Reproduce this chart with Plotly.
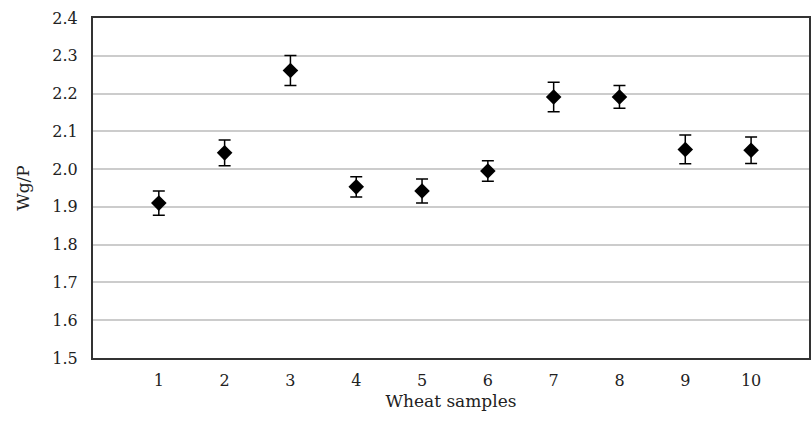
import plotly.graph_objects as go

samples = [1, 2, 3, 4, 5, 6, 7, 8, 9, 10]
wgp = [1.91, 2.043, 2.261, 1.953, 1.942, 1.995, 2.191, 2.191, 2.052, 2.050]
err = [0.032, 0.034, 0.040, 0.027, 0.032, 0.027, 0.039, 0.030, 0.038, 0.035]
y_ticks = [1.5, 1.6, 1.7, 1.8, 1.9, 2.0, 2.1, 2.2, 2.3, 2.4]

font_family = "DejaVu Serif, Liberation Serif, serif"

fig = go.Figure(go.Scatter(
    x=samples, y=wgp, mode="markers",
    marker=dict(symbol="diamond", size=12, color="black"),
    error_y=dict(type="data", array=err, visible=True, color="black",
                 thickness=1.5, width=6),
    showlegend=False,
))

fig.update_layout(
    width=811, height=424,
    margin=dict(l=93, r=0, t=18, b=66),
    paper_bgcolor="white", plot_bgcolor="white",
    font=dict(family=font_family, size=16, color="#222"),
    xaxis=dict(
        range=[0, 10.88], tickvals=samples, ticktext=[str(s) for s in samples],
        showgrid=False, zeroline=False, showline=True, linecolor="#333",
        linewidth=2, mirror=True, ticks="", ticklabelstandoff=7,
        title=dict(text="Wheat samples", standoff=6, font=dict(size=17)),
    ),
    yaxis=dict(
        range=[1.5, 2.4], tickvals=y_ticks, ticktext=[f"{v:.1f}" for v in y_ticks],
        showgrid=True, gridcolor="#cccccc", gridwidth=1.5, zeroline=False,
        showline=True, linecolor="#333", linewidth=2, mirror=True, ticks="",
        ticklabelstandoff=10,
        title=dict(text="Wg/P", standoff=18, font=dict(size=17)),
    ),
)

fig.write_html("out.html")
